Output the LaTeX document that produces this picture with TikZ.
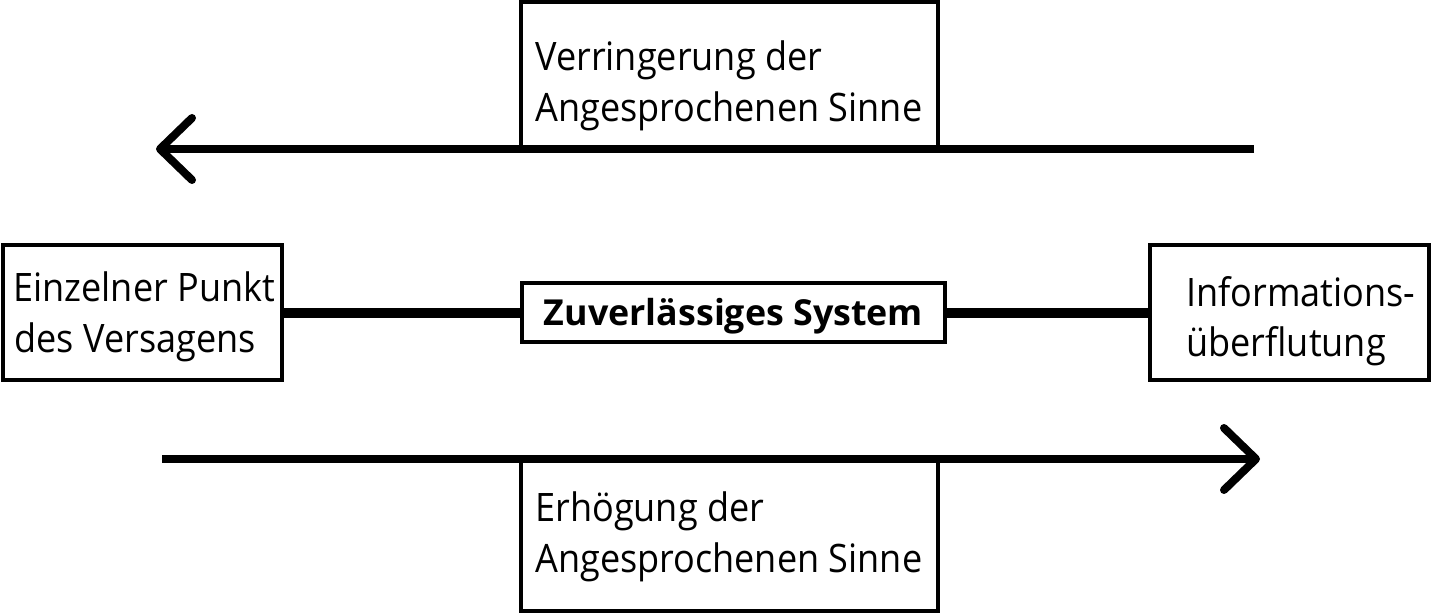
\documentclass[tikz,border=0pt]{standalone}
\usepackage{fontspec}
\setmainfont{Open Sans}[FakeStretch=0.92]
\newfontfamily\zbold{Open Sans}
\usetikzlibrary{calc}
\begin{document}
\begin{tikzpicture}[x=0.5pt,y=-0.5pt,
  box/.style={draw, line width=2pt, inner sep=0pt, outer sep=0pt},
  txt/.style={anchor=base west, inner sep=0pt, font=\fontsize{19.6pt}{24pt}\selectfont},
  flow/.style={line width=4pt},
  head/.style={line width=4pt, line cap=round, line join=round},
  link/.style={line width=5pt}]
\useasboundingbox (0,0) rectangle (1432,614);
% boxes
\node[box, minimum width=208.5pt, minimum height=73.5pt] (topbox) at (729.5,75.5) {};
\node[box, minimum width=208.5pt, minimum height=76pt] (botbox) at (729.5,535) {};
\node[box, minimum width=139.5pt, minimum height=67.5pt] (leftbox) at (142,313) {};
\node[box, minimum width=139.5pt, minimum height=67.5pt] (rightbox) at (1289.5,313) {};
\node[box, minimum width=211.5pt, minimum height=29.5pt, text height=12.5pt, text depth=0pt,
      font=\zbold\fontsize{17.9pt}{20pt}\selectfont\bfseries] (center) at (733.5,313) {Zuverlässiges System};
% texts
\node[txt] (t1) at (535,71) {Verringerung der};
\node[txt] (t2) at (535,122) {Angesprochenen Sinne};
\node[txt] (b1) at (535,522) {Erhögung der};
\node[txt] (b2) at (535,573) {Angesprochenen Sinne};
\node[txt] (l1) at (13,302) {Einzelner Punkt};
\node[txt] (l2) at (14,353) {des Versagens};
\node[txt] (r1) at (1186,307) {Informations-};
\node[txt] (r2) at (1186,357) {überflutung};
% connectors
\draw[link] (leftbox) -- (center);
\draw[link] (center) -- (rightbox);
% top arrow
\coordinate (ts) at (1254,149);
\coordinate (te) at (160,149);
\draw[flow] (ts) -- (te);
\draw[head] ($(te)+(32,-31)$) -- (te) -- ($(te)+(32,31)$);
% bottom arrow
\coordinate (bs) at (162,459);
\coordinate (be) at (1256,459);
\draw[flow] (bs) -- (be);
\draw[head] ($(be)+(-32,-31)$) -- (be) -- ($(be)+(-32,31)$);
\end{tikzpicture}
\end{document}
